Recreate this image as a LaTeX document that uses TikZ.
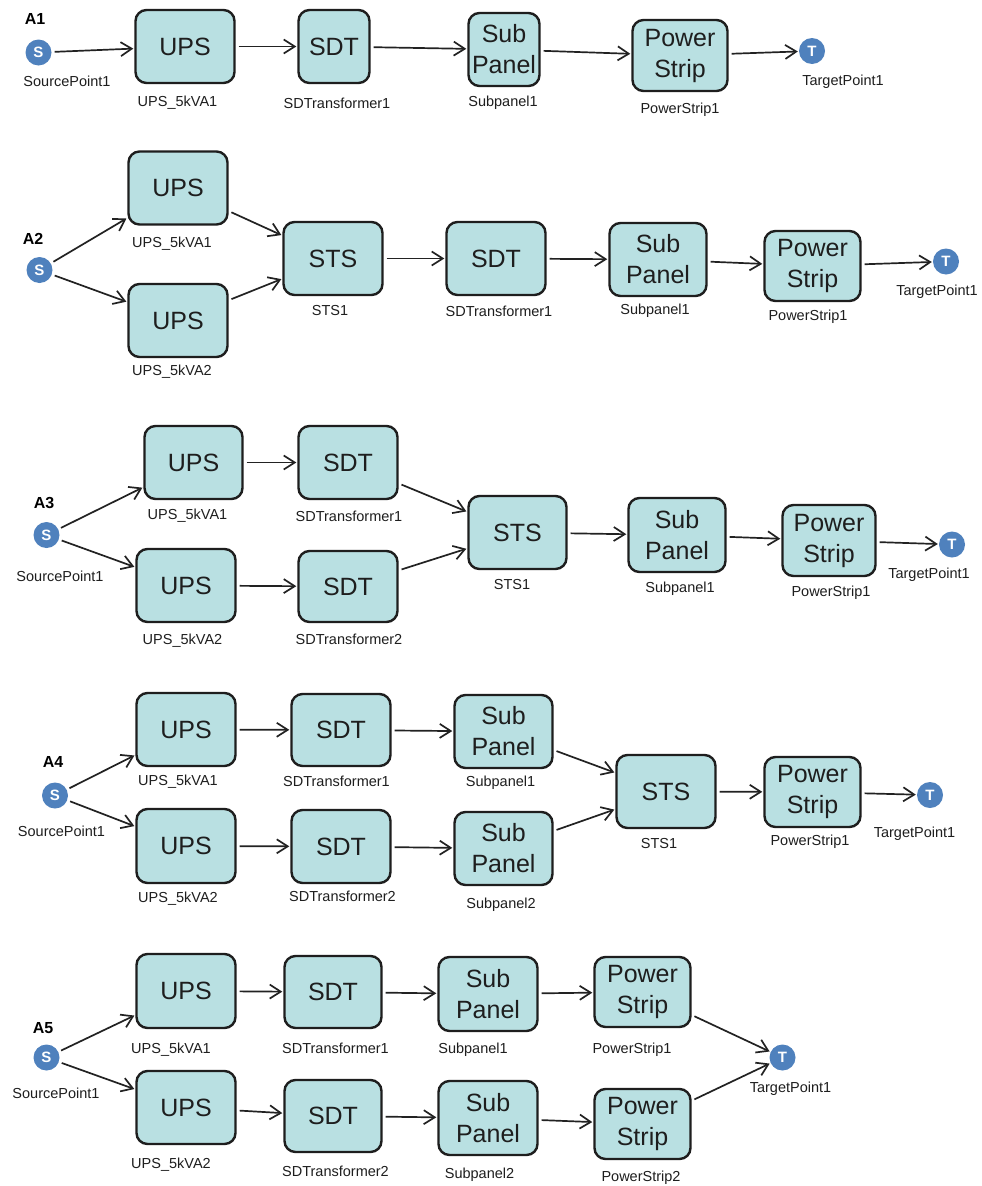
\documentclass[tikz,border=0pt]{standalone}
\usepackage{fontspec}
\setmainfont{Liberation Sans}
\usetikzlibrary{arrows.meta}
\definecolor{boxfill}{RGB}{185,224,226}
\definecolor{boxline}{RGB}{30,30,30}
\definecolor{ptblue}{RGB}{79,129,189}
\definecolor{arrowc}{RGB}{34,34,34}
\definecolor{txt}{RGB}{30,30,30}
\tikzset{
  box/.style={draw=boxline, line width=2.4pt, fill=boxfill, rounded corners=11pt,
    inner sep=0pt, align=center, text=txt, font=\fontsize{25}{31}\selectfont},
  pnt/.style={circle, fill=ptblue, minimum size=26pt, inner sep=0pt, text=white,
    font=\bfseries\fontsize{15}{15}\selectfont},
  lbl/.style={inner sep=0pt, text=txt, font=\fontsize{14.5}{16}\selectfont},
  ttl/.style={inner sep=0pt, text=black, font=\bfseries\fontsize{16}{16}\selectfont},
  conn/.style={draw=arrowc, line width=1.7pt,
    -{Straight Barb[length=11pt,width=14pt,line width=1.7pt]},
    shorten <=3pt, shorten >=1pt}
}
\newcommand{\mybox}[5]{\node[box, minimum width=#4pt, minimum height=#5pt] (#1) at #2 {#3};}
\begin{document}
\begin{tikzpicture}[x=1pt,y=-1pt]
\useasboundingbox (0,0) rectangle (982,1186);
\fill[white] (0,0) rectangle (982,1186);
% ---------------- A1
\node[ttl] (labA1) at (35,18.5) {A1};
\node[pnt] (s1) at (38.5,52.5) {S};
\node[lbl] (lsp1) at (67,81) {SourcePoint1};
\mybox{ups1}{(185,46.5)}{UPS}{99}{73}
\node[lbl] (lups1) at (177.5,103) {UPS\_5kVA1};
\mybox{sdt1}{(334,46.5)}{SDT}{71}{73}
\node[lbl] (lsdt1) at (337,103) {SDTransformer1};
\mybox{sub1}{(504,49.5)}{Sub\\Panel}{71}{73}
\node[lbl] (lsub1) at (503,103) {Subpanel1};
\mybox{ps1}{(680,55.5)}{Power\\Strip}{95}{71}
\node[lbl] (lps1) at (680,110) {PowerStrip1};
\node[pnt] (t1) at (812,51) {T};
\node[lbl] (ltp1) at (843,82) {TargetPoint1};
\draw[conn] (s1) -- (ups1);
\draw[conn] (ups1) -- (sdt1);
\draw[conn] (sdt1) -- (sub1);
\draw[conn] (sub1) -- (ps1);
\draw[conn] (ps1) -- (t1);
% ---------------- A2
\node[ttl] (labA2) at (33,238.5) {A2};
\node[pnt] (s2) at (39.5,270) {S};
\mybox{ups2a}{(178,188)}{UPS}{99}{73}
\node[lbl] (lups2a) at (172,243.5) {UPS\_5kVA1};
\mybox{ups2b}{(178,320.5)}{UPS}{99}{73}
\node[lbl] (lups2b) at (172,372) {UPS\_5kVA2};
\mybox{sts2}{(333,258.5)}{STS}{99}{73}
\node[lbl] (lsts2) at (330,311) {STS1};
\mybox{sdt2}{(496,258.5)}{SDT}{99}{73}
\node[lbl] (lsdt2) at (499,311) {SDTransformer1};
\mybox{sub2}{(658,259.5)}{Sub\\Panel}{97}{73}
\node[lbl] (lsub2) at (655,311) {Subpanel1};
\mybox{ps2}{(812.5,266)}{Power\\Strip}{96}{70}
\node[lbl] (lps2) at (808,316.5) {PowerStrip1};
\node[pnt] (t2) at (946,261.5) {T};
\node[lbl] (ltp2) at (937,291.5) {TargetPoint1};
\draw[conn] (s2) -- (ups2a);
\draw[conn] (s2) -- (ups2b);
\draw[conn] (ups2a) -- (sts2);
\draw[conn] (ups2b) -- (sts2);
\draw[conn] (sts2) -- (sdt2);
\draw[conn] (sdt2) -- (sub2);
\draw[conn] (sub2) -- (ps2);
\draw[conn] (ps2) -- (t2);
% ---------------- A3
\node[ttl] (labA3) at (44,503) {A3};
\node[pnt] (s3) at (46.5,535) {S};
\node[lbl] (lsp3) at (60,576) {SourcePoint1};
\mybox{ups3a}{(193.5,462.5)}{UPS}{98}{73}
\node[lbl] (lups3a) at (187.5,516) {UPS\_5kVA1};
\mybox{ups3b}{(186,585.5)}{UPS}{99}{73}
\node[lbl] (lups3b) at (182.5,641) {UPS\_5kVA2};
\mybox{sdt3a}{(348,462.5)}{SDT}{99}{73}
\node[lbl] (lsdt3a) at (349,516) {SDTransformer1};
\mybox{sdt3b}{(348,586.5)}{SDT}{99}{71}
\node[lbl] (lsdt3b) at (349,639) {SDTransformer2};
\mybox{sts3}{(517.5,532.5)}{STS}{98}{73}
\node[lbl] (lsts3) at (512,585) {STS1};
\mybox{sub3}{(677,535)}{Sub\\Panel}{97}{74}
\node[lbl] (lsub3) at (680,588.5) {Subpanel1};
\mybox{ps3}{(829,540.5)}{Power\\Strip}{93}{71}
\node[lbl] (lps3) at (831,592.5) {PowerStrip1};
\node[pnt] (t3) at (952,544.5) {T};
\node[lbl] (ltp3) at (929,575) {TargetPoint1};
\draw[conn] (s3) -- (ups3a);
\draw[conn] (s3) -- (ups3b);
\draw[conn] (ups3a) -- (sdt3a);
\draw[conn] (ups3b) -- (sdt3b);
\draw[conn] (sdt3a) -- (sts3);
\draw[conn] (sdt3b) -- (sts3);
\draw[conn] (sts3) -- (sub3);
\draw[conn] (sub3) -- (ps3);
\draw[conn] (ps3) -- (t3);
% ---------------- A4
\node[ttl] (labA4) at (53,762) {A4};
\node[pnt] (s4) at (55,795.5) {S};
\node[lbl] (lsp4) at (61.5,831) {SourcePoint1};
\mybox{ups4a}{(186,729.5)}{UPS}{99}{73}
\node[lbl] (lups4a) at (178,781.5) {UPS\_5kVA1};
\mybox{ups4b}{(186,846)}{UPS}{99}{74}
\node[lbl] (lups4b) at (178,898.5) {UPS\_5kVA2};
\mybox{sdt4a}{(341,730)}{SDT}{99}{72}
\node[lbl] (lsdt4a) at (336.5,781) {SDTransformer1};
\mybox{sdt4b}{(341,846.5)}{SDT}{99}{73}
\node[lbl] (lsdt4b) at (342.5,896.5) {SDTransformer2};
\mybox{sub4a}{(503.5,731.5)}{Sub\\Panel}{98}{73}
\node[lbl] (lsub4a) at (500.5,782.5) {Subpanel1};
\mybox{sub4b}{(503.5,848.5)}{Sub\\Panel}{98}{73}
\node[lbl] (lsub4b) at (501,904.5) {Subpanel2};
\mybox{sts4}{(666,791.5)}{STS}{99}{73}
\node[lbl] (lsts4) at (659,843.5) {STS1};
\mybox{ps4}{(812.5,792)}{Power\\Strip}{96}{70}
\node[lbl] (lps4) at (810,841.5) {PowerStrip1};
\node[pnt] (t4) at (930,795) {T};
\node[lbl] (ltp4) at (914.5,833.5) {TargetPoint1};
\draw[conn] (s4) -- (ups4a);
\draw[conn] (s4) -- (ups4b);
\draw[conn] (ups4a) -- (sdt4a);
\draw[conn] (ups4b) -- (sdt4b);
\draw[conn] (sdt4a) -- (sub4a);
\draw[conn] (sdt4b) -- (sub4b);
\draw[conn] (sub4a) -- (sts4);
\draw[conn] (sub4b) -- (sts4);
\draw[conn] (sts4) -- (ps4);
\draw[conn] (ps4) -- (t4);
% ---------------- A5
\node[ttl] (labA5) at (43,1028) {A5};
\node[pnt] (s5) at (46.5,1057.5) {S};
\node[lbl] (lsp5) at (56,1093.5) {SourcePoint1};
\mybox{ups5a}{(186,991)}{UPS}{99}{74}
\node[lbl] (lups5a) at (171,1049.5) {UPS\_5kVA1};
\mybox{ups5b}{(186,1107.5)}{UPS}{99}{73}
\node[lbl] (lups5b) at (171,1165) {UPS\_5kVA2};
\mybox{sdt5a}{(333,992)}{SDT}{97}{72}
\node[lbl] (lsdt5a) at (335.5,1048.5) {SDTransformer1};
\mybox{sdt5b}{(333,1116)}{SDT}{97}{72}
\node[lbl] (lsdt5b) at (335.5,1171.5) {SDTransformer2};
\mybox{sub5a}{(488,994)}{Sub\\Panel}{99}{74}
\node[lbl] (lsub5a) at (473,1049.5) {Subpanel1};
\mybox{sub5b}{(488,1118)}{Sub\\Panel}{99}{74}
\node[lbl] (lsub5b) at (479.5,1175) {Subpanel2};
\mybox{ps5a}{(642.5,992)}{Power\\Strip}{96}{70}
\node[lbl] (lps5a) at (632,1049.5) {PowerStrip1};
\mybox{ps5b}{(642.5,1124)}{Power\\Strip}{96}{70}
\node[lbl] (lps5b) at (641,1177.5) {PowerStrip2};
\node[pnt] (t5) at (782.5,1057.5) {T};
\node[lbl] (ltp5) at (790.5,1088.5) {TargetPoint1};
\draw[conn] (s5) -- (ups5a);
\draw[conn] (s5) -- (ups5b);
\draw[conn] (ups5a) -- (sdt5a);
\draw[conn] (ups5b) -- (sdt5b);
\draw[conn] (sdt5a) -- (sub5a);
\draw[conn] (sdt5b) -- (sub5b);
\draw[conn] (sub5a) -- (ps5a);
\draw[conn] (sub5b) -- (ps5b);
\draw[conn] (ps5a) -- (t5);
\draw[conn] (ps5b) -- (t5);
\end{tikzpicture}
\end{document}
